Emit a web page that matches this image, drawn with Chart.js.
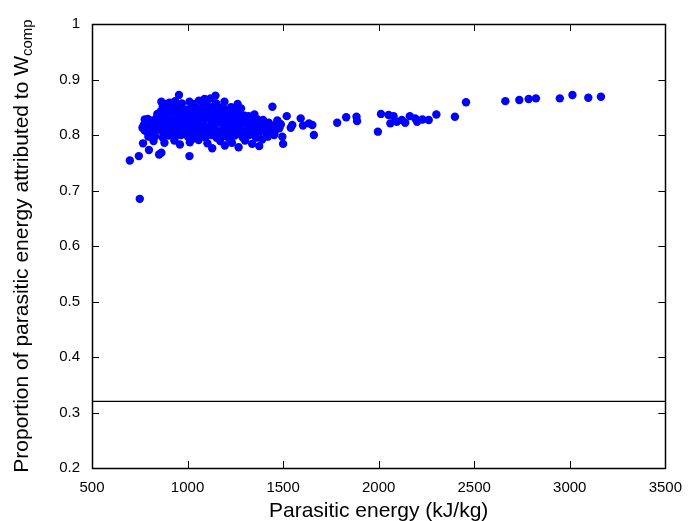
<!DOCTYPE html>
<html>
<head>
<meta charset="utf-8">
<script src="https://cdn.jsdelivr.net/npm/chart.js@4/dist/chart.umd.min.js"></script>
<style>
  html, body { margin: 0; padding: 0; background: #fff; }
  #wrap { width: 693px; height: 521px; }
</style>
</head>
<body>
<div id="wrap"><canvas id="energyChart" width="693" height="521"></canvas></div>
<script>
// Parasitic energy (kJ/kg) for each run
const parasiticEnergy = [
  698, 745, 750, 798, 767, 851, 863, 1010, 1129, 1267, 1375, 1500, 776, 764, 780, 790, 795,
  863, 955, 1010, 1089, 1146, 1193, 1262, 1444, 1120, 1060, 905, 935,
  1519, 1592, 1635, 1653, 1661, 1548, 1496, 1604, 1783, 1830, 1884, 1887, 1996, 2012, 2052, 2061,
  2078, 2095, 2121, 2139, 2163, 2191, 2201, 2229, 2262, 2302, 2399, 2457, 2663, 2736, 2785, 2823,
  2948, 3014, 3097, 3163,
  1410, 1425, 1440, 1460, 1470, 1480, 1455, 1485, 1395, 1420, 1375, 1390, 1540, 1453, 1410, 1488,
  870, 898, 925, 962, 988, 1022, 1048, 1083, 1112, 1138, 1168, 1198, 1228, 1150, 1100, 1035, 970, 890,
  842, 861, 888, 914, 944, 973, 1001, 1029, 1058, 1091, 1118, 1151, 1179, 1211, 1241, 1268, 1298,
  792, 816, 839, 868, 896, 924, 953, 982, 1011, 1039, 1066, 1096, 1124, 1156, 1186, 1214, 1246, 1277, 1306, 1334, 1366,
  771, 801, 829, 856, 884, 911, 941, 969, 999, 1028, 1057, 1084, 1116, 1144, 1173, 1202, 1231, 1259, 1292, 1319, 1349, 1381,
  776, 811, 838, 866, 894, 926, 951, 984, 1016, 1044, 1074, 1101, 1131, 1161, 1189, 1221, 1251, 1282, 1311, 1342, 1404, 1436,
  832, 871, 902, 934, 966, 1002, 1034, 1061, 1094, 1126, 1152, 1186, 1216, 1247, 1288, 1322, 1358,
  822, 879, 931, 1012, 1058, 1104, 1171, 1232, 1301, 1338, 960, 1195,
  880, 935, 1005, 1065, 1125, 1185, 1250, 1280,
  855, 905, 965, 1025, 1080, 1140, 1195, 1260, 1320, 1350,
  785, 845, 900, 955, 1015, 1070, 1130, 1190, 1245, 1305, 1360, 1400,
  790, 850, 905, 960, 1020, 1080, 1140, 1210, 1270, 1330, 1365,
  820, 880, 945, 1020, 1085, 1140, 1205, 1265, 1330
];

// Share of the parasitic energy attributed to W_comp, same order
const compShare = [
  0.754, 0.762, 0.685, 0.773, 0.785, 0.765, 0.768, 0.762, 0.776, 0.778, 0.780, 0.784, 0.828, 0.813, 0.820, 0.805, 0.797,
  0.860, 0.872, 0.860, 0.865, 0.871, 0.860, 0.856, 0.851, 0.866, 0.862, 0.858, 0.861,
  0.834, 0.830, 0.821, 0.818, 0.800, 0.818, 0.797, 0.817, 0.822, 0.832, 0.833, 0.825, 0.806, 0.838, 0.836, 0.821,
  0.834, 0.824, 0.827, 0.822, 0.834, 0.830, 0.824, 0.828, 0.827, 0.837, 0.833, 0.859, 0.861, 0.863, 0.865, 0.866,
  0.866, 0.872, 0.867, 0.869,
  0.815, 0.822, 0.810, 0.818, 0.826, 0.812, 0.803, 0.820, 0.827, 0.797, 0.805, 0.792, 0.813, 0.800, 0.804, 0.819,
  0.851, 0.848, 0.853, 0.850, 0.846, 0.852, 0.849, 0.853, 0.847, 0.852, 0.849, 0.846, 0.850, 0.857, 0.858, 0.856, 0.857, 0.856,
  0.838, 0.843, 0.836, 0.841, 0.838, 0.842, 0.836, 0.840, 0.837, 0.842, 0.838, 0.841, 0.836, 0.840, 0.837, 0.841, 0.835,
  0.829, 0.826, 0.831, 0.827, 0.830, 0.826, 0.832, 0.828, 0.825, 0.830, 0.827, 0.831, 0.826, 0.829, 0.832, 0.827, 0.830, 0.825, 0.829, 0.826, 0.828,
  0.818, 0.816, 0.821, 0.817, 0.820, 0.815, 0.819, 0.822, 0.816, 0.820, 0.817, 0.821, 0.815, 0.819, 0.822, 0.816, 0.819, 0.815, 0.821, 0.817, 0.820, 0.816,
  0.808, 0.806, 0.811, 0.807, 0.809, 0.805, 0.810, 0.807, 0.811, 0.806, 0.809, 0.805, 0.810, 0.807, 0.811, 0.806, 0.809, 0.805, 0.810, 0.807, 0.810, 0.806,
  0.798, 0.795, 0.799, 0.796, 0.800, 0.797, 0.794, 0.799, 0.796, 0.800, 0.795, 0.798, 0.794, 0.799, 0.796, 0.800, 0.795,
  0.789, 0.786, 0.790, 0.787, 0.791, 0.785, 0.789, 0.786, 0.790, 0.784, 0.783, 0.781,
  0.844, 0.846, 0.843, 0.845, 0.844, 0.843, 0.846, 0.848,
  0.834, 0.833, 0.834, 0.833, 0.834, 0.833, 0.834, 0.833, 0.834, 0.837,
  0.823, 0.824, 0.823, 0.824, 0.823, 0.824, 0.823, 0.824, 0.823, 0.824, 0.823, 0.823,
  0.813, 0.812, 0.813, 0.812, 0.813, 0.812, 0.813, 0.812, 0.813, 0.812, 0.813,
  0.803, 0.802, 0.803, 0.802, 0.803, 0.802, 0.803, 0.802, 0.803
];

const xTicks = [500, 1000, 1500, 2000, 2500, 3000, 3500];
const yTicks = [0.2, 0.3, 0.4, 0.5, 0.6, 0.7, 0.8, 0.9, 1];
const refLevel = 0.32;

const FONT = '"Liberation Sans", Arial, Helvetica, sans-serif';

const points = parasiticEnergy.map((e, i) => ({ x: e, y: compShare[i] }));

// frame, inward ticks on all four sides, and both axis titles
const framePlugin = {
  id: 'frame',
  afterDraw(chart) {
    const { ctx, chartArea: a, scales } = chart;
    const len = 7;
    ctx.save();
    ctx.strokeStyle = '#000';
    ctx.lineWidth = 1;
    ctx.beginPath();
    xTicks.forEach(v => {
      const px = Math.round(scales.x.getPixelForValue(v)) + 0.5;
      ctx.moveTo(px, a.bottom); ctx.lineTo(px, a.bottom - len);
      ctx.moveTo(px, a.top); ctx.lineTo(px, a.top + len);
    });
    yTicks.forEach(v => {
      const py = Math.round(scales.y.getPixelForValue(v)) + 0.5;
      ctx.moveTo(a.left, py); ctx.lineTo(a.left + len, py);
      ctx.moveTo(a.right, py); ctx.lineTo(a.right - len, py);
    });
    ctx.stroke();
    ctx.lineWidth = 1.5;
    ctx.strokeRect(Math.round(a.left) + 0.5, Math.round(a.top) + 0.5,
      Math.round(a.right - a.left), Math.round(a.bottom - a.top));

    ctx.fillStyle = '#000';
    // x title
    ctx.font = '21px ' + FONT;
    ctx.textAlign = 'center';
    ctx.textBaseline = 'alphabetic';
    ctx.fillText('Parasitic energy (kJ/kg)', (a.left + a.right) / 2, 517);

    // y title with subscript
    const main = 'Proportion of parasitic energy attributed to W';
    const sub = 'comp';
    ctx.font = '21px ' + FONT;
    const wMain = ctx.measureText(main).width;
    ctx.font = '15px ' + FONT;
    const wSub = ctx.measureText(sub).width;
    const total = wMain + wSub;
    ctx.translate(28, (a.top + a.bottom) / 2);
    ctx.rotate(-Math.PI / 2);
    ctx.textAlign = 'left';
    ctx.font = '21px ' + FONT;
    ctx.fillText(main, -total / 2, 0);
    ctx.font = '15px ' + FONT;
    ctx.fillText(sub, -total / 2 + wMain, 4);
    ctx.restore();
  }
};

new Chart(document.getElementById('energyChart').getContext('2d'), {
  type: 'scatter',
  data: {
    datasets: [
      {
        label: 'runs',
        data: points,
        backgroundColor: '#0000ff',
        borderWidth: 0,
        pointRadius: 4.2,
        pointHoverRadius: 4.2
      },
      {
        type: 'line',
        label: 'level',
        data: [{ x: 500, y: refLevel }, { x: 3500, y: refLevel }],
        borderColor: '#000',
        borderWidth: 1.2,
        pointRadius: 0,
        fill: false
      }
    ]
  },
  plugins: [framePlugin],
  options: {
    responsive: false,
    animation: false,
    events: [],
    layout: { padding: { top: 24, right: 25, left: 0, bottom: 0 } },
    plugins: {
      legend: { display: false },
      tooltip: { enabled: false }
    },
    scales: {
      x: {
        type: 'linear',
        min: 500,
        max: 3500,
        afterBuildTicks: s => { s.ticks = xTicks.map(v => ({ value: v })); },
        afterFit: s => { s.height = 53; },
        grid: { display: false, drawTicks: false },
        border: { display: false },
        ticks: {
          color: '#000',
          padding: 11,
          maxRotation: 0,
          font: { family: FONT, size: 15 },
          callback: v => String(v)
        }
      },
      y: {
        min: 0.2,
        max: 1,
        afterBuildTicks: s => { s.ticks = yTicks.map(v => ({ value: v })); },
        afterFit: s => { s.width = 92; },
        grid: { display: false, drawTicks: false },
        border: { display: false },
        ticks: {
          color: '#000',
          padding: 12,
          font: { family: FONT, size: 15 },
          callback: v => String(Math.round(v * 10) / 10)
        }
      }
    }
  }
});
</script>
</body>
</html>
